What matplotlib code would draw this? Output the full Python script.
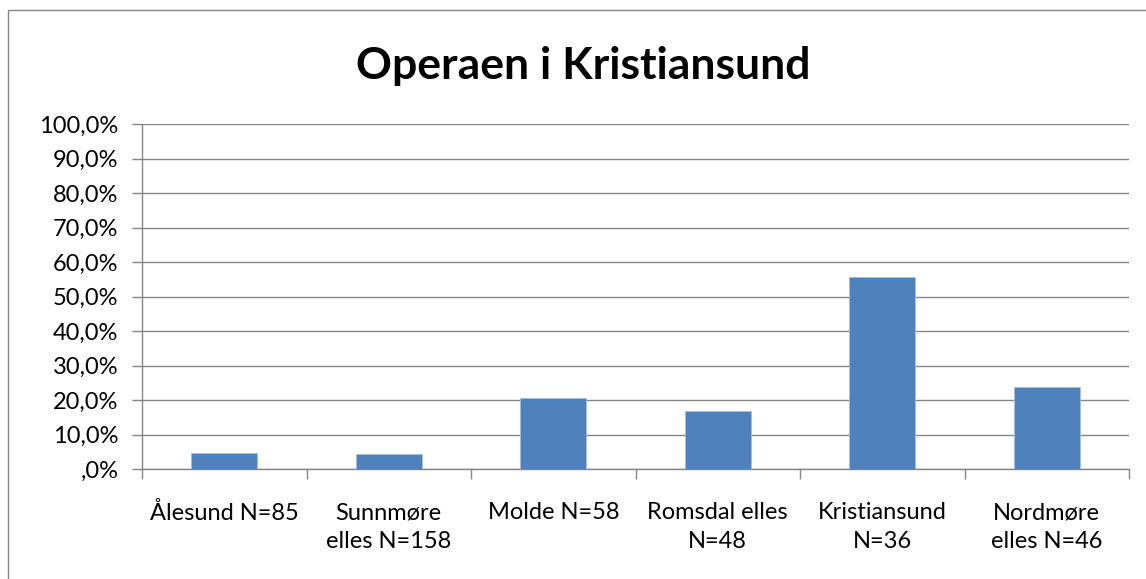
import matplotlib
matplotlib.use("Agg")
import matplotlib.pyplot as plt
from matplotlib.ticker import FixedLocator, FuncFormatter
from matplotlib.patches import Rectangle

categories = ["Ålesund N=85", "Sunnmøre\nelles N=158", "Molde N=58",
              "Romsdal elles\nN=48", "Kristiansund\nN=36", "Nordmøre\nelles N=46"]
values = [4.7, 4.4, 20.7, 16.7, 55.6, 23.9]
yticks = [0, 10, 20, 30, 40, 50, 60, 70, 80, 90, 100]
title = "Operaen i Kristiansund"

plt.rcParams['font.family'] = ['Lato', 'DejaVu Sans']

fig = plt.figure(figsize=(11.46, 5.79), dpi=100)
ax = fig.add_axes([142/1146, 1-469/579, (1129-142)/1146, (469-124)/579])

grid_c = "#868686"
x = list(range(len(categories)))
ax.bar(x, values, width=0.4, color="#4F81BD", edgecolor="#A7C0DE", linewidth=0.6, zorder=3)


def fmt(v, p):
    s = ("%.1f%%" % v).replace(".", ",")
    return ",0%" if v == 0 else s


ax.set_xlim(-0.5, len(categories) - 0.5)
ax.set_ylim(0, 100)
ax.set_yticks(yticks)
ax.yaxis.set_major_formatter(FuncFormatter(fmt))
ax.yaxis.grid(True, color=grid_c, linewidth=1.0, zorder=0)
ax.tick_params(axis='y', length=7, color=grid_c, width=1, labelsize=17, pad=10, direction='out')

ax.set_xticks(x)
ax.set_xticklabels(categories, fontsize=17, linespacing=1.45)
ax.tick_params(axis='x', which='major', length=0, pad=24)
ax.xaxis.set_minor_locator(FixedLocator([i - 0.5 for i in range(len(categories) + 1)]))
ax.tick_params(axis='x', which='minor', length=7, color=grid_c, width=1, direction='out')

for s in ['top', 'right']:
    ax.spines[s].set_visible(False)
for s in ['left', 'bottom']:
    ax.spines[s].set_color(grid_c)
    ax.spines[s].set_linewidth(1.0)

fig.text(583/1146, 1-66/579, title, ha='center', va='center', fontsize=32, fontweight='bold')

fig.patches.append(Rectangle((8/1146, -0.1), 1.2, 1 - 10/579 + 0.1, transform=fig.transFigure,
                             fill=False, edgecolor=grid_c, linewidth=1.0))

fig.savefig("out.png", dpi=100)
